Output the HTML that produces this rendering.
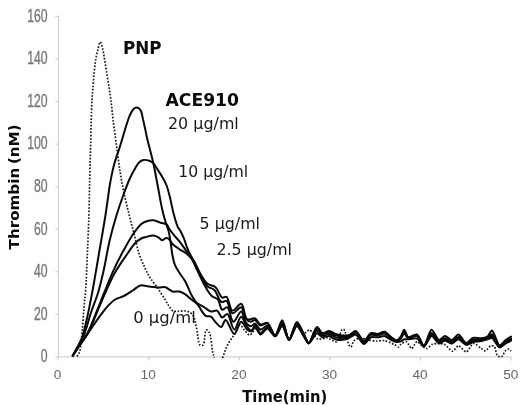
<!DOCTYPE html>
<html><head><meta charset="utf-8"><title>Thrombin generation</title>
<style>
html,body{margin:0;padding:0;background:#fff;}
svg{display:block;}
.ax{stroke:#d2d2d2;stroke-width:1.2;fill:none;}
.yl text{font-family:"Liberation Sans",sans-serif;font-size:17.5px;fill:#777;stroke:#777;stroke-width:0.35;}
.xl text{font-family:"Liberation Sans",sans-serif;font-size:13.7px;fill:#686868;}
.b{font-family:"DejaVu Sans","Liberation Sans",sans-serif;font-weight:bold;fill:#0a0a0a;}
.n{font-family:"DejaVu Sans","Liberation Sans",sans-serif;font-size:15.5px;fill:#1a1a1a;}
.s path{fill:none;stroke:#0a0a0a;stroke-width:2;stroke-linejoin:round;stroke-linecap:round;}
.d path{fill:none;stroke:#1c1c1c;stroke-width:1.7;stroke-dasharray:1.7 1.6;}
</style></head><body>
<svg width="520" height="405" viewBox="0 0 520 405">
<rect width="520" height="405" fill="#fff"/>
<g class="ax">
<line x1="58.5" x2="58.5" y1="15.8" y2="357.4"/>
<line x1="57.9" x2="511.6" y1="356.85" y2="356.85"/>
<line x1="55.3" x2="58.5" y1="356.9" y2="356.9"/><line x1="55.3" x2="58.5" y1="314.3" y2="314.3"/><line x1="55.3" x2="58.5" y1="271.7" y2="271.7"/><line x1="55.3" x2="58.5" y1="229.2" y2="229.2"/><line x1="55.3" x2="58.5" y1="186.6" y2="186.6"/><line x1="55.3" x2="58.5" y1="144.1" y2="144.1"/><line x1="55.3" x2="58.5" y1="101.5" y2="101.5"/><line x1="55.3" x2="58.5" y1="58.9" y2="58.9"/><line x1="55.3" x2="58.5" y1="16.4" y2="16.4"/>
<line x1="58.0" x2="58.0" y1="356.85" y2="360.6"/><line x1="148.6" x2="148.6" y1="356.85" y2="360.6"/><line x1="239.3" x2="239.3" y1="356.85" y2="360.6"/><line x1="329.9" x2="329.9" y1="356.85" y2="360.6"/><line x1="420.5" x2="420.5" y1="356.85" y2="360.6"/><line x1="511.2" x2="511.2" y1="356.85" y2="360.6"/>
</g>
<g class="yl"><text transform="translate(47.6,362.2) scale(0.70,1)" text-anchor="end">0</text><text transform="translate(47.6,319.6) scale(0.70,1)" text-anchor="end">20</text><text transform="translate(47.6,277.0) scale(0.70,1)" text-anchor="end">40</text><text transform="translate(47.6,234.5) scale(0.70,1)" text-anchor="end">60</text><text transform="translate(47.6,191.9) scale(0.70,1)" text-anchor="end">80</text><text transform="translate(47.6,149.4) scale(0.70,1)" text-anchor="end">100</text><text transform="translate(47.6,106.8) scale(0.70,1)" text-anchor="end">120</text><text transform="translate(47.6,64.2) scale(0.70,1)" text-anchor="end">140</text><text transform="translate(47.6,21.7) scale(0.70,1)" text-anchor="end">160</text></g>
<g class="xl"><text x="57.6" y="379.2" text-anchor="middle">0</text><text x="148.2" y="379.2" text-anchor="middle">10</text><text x="238.9" y="379.2" text-anchor="middle">20</text><text x="329.5" y="379.2" text-anchor="middle">30</text><text x="420.1" y="379.2" text-anchor="middle">40</text><text x="510.8" y="379.2" text-anchor="middle">50</text></g>
<g class="d">
<path d="M77.0 356.5C77.9 354.8 79.0 353.8 79.7 351.4C81.1 346.8 81.6 337.1 82.3 329.8C83.0 322.4 83.4 314.3 84.0 307.3C84.5 301.2 85.2 296.8 85.7 290.0C86.4 280.4 86.8 267.1 87.3 255.0C87.9 242.1 88.5 227.9 88.9 215.0C89.3 202.9 89.4 191.2 89.7 180.0C90.0 169.6 90.2 159.9 90.5 150.0C90.8 140.3 91.0 129.9 91.2 121.0C91.5 113.4 91.7 105.8 92.0 100.0C92.2 95.8 92.5 93.3 92.8 89.3C93.2 84.1 93.8 76.8 94.3 71.5C94.7 67.1 95.1 63.4 95.7 59.6C96.3 56.0 97.2 52.4 98.0 49.3C98.7 46.6 99.4 41.9 100.2 41.9C100.9 41.9 101.8 45.5 102.4 47.8C103.3 51.0 103.9 55.4 104.6 59.6C105.4 64.2 106.1 69.5 106.9 74.4C107.7 79.4 108.7 84.7 109.4 89.3C110.0 93.2 110.4 95.8 110.9 100.0C111.6 105.8 112.3 113.4 113.2 121.0C114.3 129.9 115.9 140.9 117.1 150.0C118.2 158.1 119.1 165.8 120.3 173.0C121.3 179.4 122.3 184.6 123.6 191.0C125.1 198.4 127.3 207.4 129.2 215.0C130.9 221.9 132.6 228.2 134.3 234.8C136.0 241.4 137.3 248.6 139.3 254.5C141.0 259.5 143.1 263.9 145.0 268.0C146.6 271.5 148.1 274.4 150.0 277.5C152.0 280.8 154.6 283.7 157.0 287.2C159.6 291.0 162.8 296.0 165.0 299.5C166.6 302.0 167.6 304.0 169.0 306.0C170.3 307.8 171.4 310.2 173.0 311.0C174.4 311.7 176.1 311.3 178.0 311.3C180.4 311.3 183.5 310.4 186.0 311.0C188.4 311.5 190.8 312.5 192.5 314.5C194.8 317.3 195.3 322.8 196.5 327.5C197.9 332.9 197.9 343.3 200.0 345.0C200.8 345.7 202.2 345.7 203.0 345.0C204.9 343.5 204.6 330.6 206.3 330.0C207.2 329.7 208.4 331.0 209.3 332.5C211.2 335.9 211.8 347.9 212.8 352.5C213.3 354.9 213.8 356.2 214.3 358.0"/>
<path d="M222.5 358.0C224.2 353.7 225.5 349.0 227.5 345.0C229.4 341.3 231.9 338.4 234.0 335.0C236.1 331.7 238.0 325.2 240.0 325.0C241.7 324.9 243.2 329.3 245.0 331.0C246.6 332.6 248.3 335.2 250.0 335.0C252.2 334.8 254.8 327.2 257.0 327.0C258.3 326.9 260.6 330.9 262.0 331.0C263.5 331.1 266.5 326.8 268.0 327.0C270.0 327.3 273.7 336.2 275.5 336.0C277.4 335.8 280.3 323.9 282.0 324.0C283.8 324.1 287.0 338.9 289.0 339.0C290.9 339.1 295.0 325.1 297.0 325.0C298.6 324.9 301.2 333.6 303.0 334.0C304.5 334.3 307.8 329.8 309.5 330.0C311.6 330.3 315.2 338.1 317.7 339.0C319.9 339.8 324.6 337.7 327.0 338.0C329.5 338.3 334.8 342.5 336.7 341.7C338.9 340.8 340.6 330.4 342.0 329.5C342.5 329.2 343.5 329.1 344.0 329.5C345.4 330.5 347.7 342.9 349.0 345.0C349.5 345.9 350.5 347.1 351.0 347.0C351.8 346.9 352.6 342.2 353.7 341.0C354.9 339.8 358.2 338.2 360.0 338.0C361.9 337.8 365.9 339.6 368.0 340.0C370.1 340.4 374.1 340.9 376.3 341.0C378.4 341.1 382.3 340.2 384.5 340.6C386.9 341.0 392.0 343.4 394.0 344.4C395.5 345.1 397.8 347.2 398.7 347.0C399.4 346.9 400.0 345.0 400.8 344.4C401.8 343.6 404.9 341.4 406.2 341.7C407.8 342.0 410.4 348.5 411.6 348.5C412.4 348.5 413.6 345.9 414.3 345.0C415.0 344.1 416.2 341.6 417.0 341.5C417.9 341.4 419.8 344.1 421.0 345.0C422.3 346.0 425.2 348.6 426.6 348.5C428.1 348.4 430.6 345.0 432.2 344.4C433.6 343.8 436.4 343.5 438.0 343.5C439.6 343.5 442.8 343.7 444.5 344.4C446.6 345.3 450.7 351.2 452.6 351.2C454.3 351.2 456.8 345.9 458.5 345.8C460.3 345.7 464.3 352.1 466.2 351.9C468.2 351.7 471.4 343.8 473.5 343.5C475.4 343.2 479.6 347.5 481.3 348.5C482.5 349.2 484.2 350.9 485.3 350.8C486.7 350.7 489.4 346.2 490.8 345.8C491.7 345.5 493.5 345.8 494.2 346.4C495.5 347.5 496.2 354.9 497.6 356.0C498.5 356.7 500.7 357.0 501.6 356.6C502.9 356.0 504.5 351.5 505.7 350.5C506.5 349.8 508.3 348.9 509.0 349.0C509.6 349.1 510.5 350.5 511.0 351.0"/>
</g>
<g class="s">
<path d="M72.8 355.7C74.5 352.5 76.4 349.2 78.0 346.0C79.6 342.9 81.0 340.5 82.3 336.7C84.2 331.2 85.9 323.2 87.5 316.0C89.2 308.3 90.6 300.9 92.3 292.0C94.4 280.9 96.6 267.2 98.8 254.5C101.0 241.5 103.6 227.3 105.5 215.0C107.2 204.3 108.7 191.9 109.8 185.0C110.4 181.3 110.8 179.4 111.4 176.5C112.1 173.3 112.7 169.9 113.6 166.5C114.5 163.1 115.6 159.4 116.7 156.1C117.7 153.0 118.8 150.1 119.8 147.0C120.8 143.8 121.8 140.3 122.8 137.0C123.8 133.7 124.8 130.2 125.8 127.0C126.7 124.0 127.6 121.1 128.6 118.5C129.4 116.3 130.3 114.2 131.2 112.5C132.0 111.1 132.7 109.9 133.6 109.0C134.4 108.3 135.3 107.5 136.2 107.4C137.1 107.3 138.4 107.9 139.2 108.5C140.1 109.2 140.6 110.2 141.2 111.5C142.0 113.4 142.4 116.4 143.0 119.2C143.8 122.5 144.6 126.5 145.4 130.0C146.1 133.3 146.5 135.8 147.4 139.5C148.7 144.9 151.0 153.3 152.4 159.3C153.6 164.3 154.4 168.4 155.3 173.0C156.2 177.7 157.0 182.0 158.0 187.3C159.3 193.9 160.7 202.9 162.3 209.7C163.6 215.4 165.4 221.4 166.6 225.3C167.3 227.7 168.0 228.7 168.6 231.0C169.4 234.1 170.0 238.4 170.6 242.3C171.3 246.4 171.6 251.1 172.4 255.0C173.1 258.4 173.6 261.6 174.8 264.6C176.0 267.6 177.8 270.3 179.5 273.0C181.2 275.7 183.2 277.8 185.0 281.0C187.4 285.1 189.5 291.5 192.0 296.0C194.1 299.8 196.5 303.0 198.8 306.3C201.1 309.6 203.2 314.3 205.7 315.8C207.4 316.8 209.5 315.8 211.0 316.7C212.7 317.7 213.6 320.2 215.2 321.8C217.0 323.6 219.6 327.3 221.3 327.0C223.0 326.7 223.9 320.0 225.6 320.0C228.0 320.0 231.6 334.1 234.3 334.0C236.8 333.9 238.9 322.0 241.2 321.8C243.2 321.7 245.2 328.0 247.2 329.6C248.6 330.7 250.2 331.7 251.5 331.4C252.9 331.0 253.7 327.0 255.0 327.0C256.3 327.0 258.9 334.4 260.5 334.6C262.1 334.8 265.7 328.5 267.5 328.6C269.5 328.7 273.3 336.5 275.2 336.3C277.2 336.1 280.5 325.9 282.2 326.0C284.1 326.1 287.1 339.9 289.0 340.0C290.9 340.1 294.8 326.1 296.8 326.0C298.6 325.9 302.1 333.9 303.8 336.3C305.2 338.3 307.3 343.3 308.8 343.3C310.6 343.4 315.0 333.4 317.0 333.2C318.5 333.0 320.8 336.9 322.4 337.3C324.0 337.7 327.5 335.7 329.2 336.0C330.9 336.3 333.7 338.8 335.3 339.3C336.7 339.8 339.2 340.1 340.8 340.0C342.7 339.9 347.0 338.7 349.0 338.0C350.9 337.3 354.0 334.3 355.7 334.6C357.9 335.0 361.8 343.9 363.9 344.0C365.7 344.1 368.9 338.1 370.9 337.3C372.6 336.6 375.9 337.5 377.7 337.3C379.5 337.1 382.8 335.7 384.5 336.0C386.3 336.3 389.6 339.2 391.3 340.0C392.8 340.7 395.4 341.9 396.7 342.0C397.8 342.1 399.8 341.8 400.8 341.4C401.8 341.0 403.2 339.6 404.2 339.3C405.2 339.0 407.0 339.3 408.2 339.3C410.0 339.2 415.0 337.8 417.0 338.6C419.2 339.5 422.1 346.6 423.9 346.5C425.9 346.4 429.4 336.2 431.5 336.0C433.4 335.8 437.0 343.0 439.0 343.4C440.6 343.7 443.4 340.7 445.0 340.7C446.7 340.7 450.3 343.6 452.0 343.4C453.8 343.2 456.8 339.2 458.5 339.3C460.4 339.4 464.2 344.6 466.2 344.8C468.0 345.0 471.1 342.5 473.0 342.0C475.0 341.5 479.3 341.4 481.3 341.0C483.0 340.7 485.9 339.7 487.4 339.3C488.7 338.9 490.8 337.6 492.0 338.0C493.9 338.6 497.6 347.2 499.6 347.5C501.2 347.7 504.1 344.3 505.7 343.4C507.1 342.6 509.6 341.4 511.0 340.7"/>
<path d="M72.8 355.7C74.5 352.6 76.2 349.8 78.0 346.5C80.0 342.9 82.1 339.6 84.0 335.0C86.5 328.8 88.6 319.8 91.0 312.5C93.3 305.5 96.2 299.0 98.3 292.0C100.4 284.9 101.9 278.1 103.7 270.3C105.7 261.2 107.4 250.2 109.6 240.7C111.7 231.8 114.2 222.9 116.6 215.0C118.7 208.2 120.8 202.1 123.0 196.0C125.1 190.2 127.4 183.8 129.6 179.0C131.3 175.2 132.8 172.2 134.6 169.2C136.2 166.6 137.7 163.5 139.5 162.0C140.8 160.9 142.1 160.3 143.5 160.0C145.0 159.7 146.8 160.0 148.4 160.5C150.1 161.0 152.0 161.9 153.4 163.2C155.0 164.7 155.9 167.1 157.3 169.2C158.9 171.6 160.8 174.3 162.3 177.0C163.9 179.7 165.4 182.4 166.6 185.5C168.0 189.1 168.9 193.3 170.0 197.6C171.2 202.5 172.2 208.2 173.5 213.2C174.8 218.0 176.3 223.8 177.8 227.0C178.7 228.8 179.5 229.5 180.4 231.0C181.4 232.9 182.5 235.1 183.5 237.4C184.6 240.0 185.5 243.2 186.5 246.0C187.5 248.6 188.3 251.0 189.6 253.5C191.0 256.3 193.0 259.0 194.6 262.0C196.4 265.3 197.7 269.0 199.7 272.5C201.9 276.3 204.6 281.5 207.5 283.8C209.6 285.5 212.7 285.3 214.4 286.4C215.6 287.2 216.1 287.8 217.0 289.0C218.5 291.0 220.2 296.7 222.2 297.6C223.5 298.2 225.2 296.1 226.5 296.8C228.9 298.1 229.8 309.9 232.5 310.6C234.9 311.2 238.9 303.1 241.2 303.7C244.1 304.5 244.1 317.4 247.2 319.3C249.3 320.6 252.8 317.6 255.0 318.4C256.8 319.1 258.8 324.0 260.5 324.5C262.1 325.0 265.9 322.1 267.5 322.8C269.9 323.8 273.3 335.8 275.2 335.7C277.2 335.6 280.5 320.1 282.2 320.2C284.1 320.3 287.1 339.9 289.0 340.0C290.9 340.1 294.7 322.1 296.8 322.0C298.6 321.9 302.2 331.1 303.8 334.0C305.2 336.6 307.4 343.3 308.8 343.3C310.7 343.3 314.9 327.3 317.0 327.0C318.4 326.8 320.7 332.7 322.4 333.2C323.9 333.6 327.5 331.0 329.2 331.1C330.9 331.2 333.7 333.4 335.3 333.9C336.7 334.4 339.2 335.0 340.8 335.2C342.7 335.4 347.0 335.8 349.0 335.2C350.9 334.7 354.0 330.8 355.7 331.1C357.9 331.5 361.8 341.0 363.9 341.0C365.8 341.0 368.9 334.0 370.9 333.2C372.5 332.6 375.9 334.1 377.7 333.9C379.5 333.7 382.8 331.5 384.5 331.8C386.4 332.2 389.6 336.1 391.3 337.3C392.7 338.3 395.4 340.7 396.7 340.6C397.9 340.5 399.9 337.9 400.8 336.6C401.9 335.1 403.3 329.8 404.2 329.8C405.2 329.8 406.6 336.6 408.2 337.3C409.9 338.0 415.1 333.8 417.0 334.5C419.3 335.4 422.1 346.1 423.9 346.0C425.9 345.9 429.3 330.0 431.5 329.8C433.3 329.6 437.0 339.7 439.0 340.0C440.5 340.3 443.4 336.0 445.0 335.9C446.7 335.8 450.3 340.2 452.0 340.0C453.8 339.8 456.8 334.4 458.5 334.5C460.5 334.6 464.2 342.8 466.2 343.0C467.9 343.2 471.0 338.6 473.0 338.0C475.0 337.4 479.3 338.5 481.3 338.3C483.0 338.1 486.1 337.5 487.4 336.6C488.9 335.6 490.7 330.4 492.0 330.5C493.9 330.7 497.4 345.0 499.6 345.4C501.1 345.7 504.1 341.2 505.7 340.0C507.1 339.0 509.6 337.5 511.0 336.6"/>
<path d="M72.8 355.7C74.9 352.5 76.8 349.4 79.0 346.0C81.6 342.0 84.8 338.2 87.5 333.2C90.9 326.9 94.1 317.9 97.0 310.7C99.7 304.2 101.9 298.3 104.5 292.0C107.1 285.5 109.6 279.0 112.6 272.3C115.8 265.2 119.8 257.3 123.5 250.6C126.8 244.6 130.1 238.5 133.4 233.8C136.0 230.0 138.8 226.1 141.3 224.0C142.9 222.7 144.2 222.1 146.0 221.5C148.2 220.8 151.2 220.1 153.6 220.3C156.0 220.5 158.3 222.0 160.5 222.7C162.6 223.4 165.1 223.3 166.6 224.4C167.9 225.4 168.1 227.2 169.2 228.8C170.6 230.8 172.4 233.2 174.2 235.4C176.1 237.7 178.3 239.8 180.2 242.3C182.3 245.0 184.3 248.3 186.3 251.0C188.1 253.4 189.8 255.1 191.5 257.8C193.7 261.4 195.5 266.5 198.0 271.0C200.8 276.0 204.1 283.3 207.5 286.4C209.7 288.4 212.4 287.9 214.4 289.9C217.2 292.5 218.7 300.8 221.3 302.0C222.9 302.7 225.0 300.2 226.5 301.0C229.0 302.2 229.8 312.5 232.5 313.2C234.9 313.8 239.1 306.5 241.2 307.2C243.5 307.9 243.5 315.9 245.5 318.4C246.9 320.2 249.0 321.6 250.7 321.8C252.2 321.9 253.6 319.7 255.0 320.0C256.4 320.3 258.8 325.1 260.5 325.5C262.1 325.9 265.8 322.8 267.5 323.4C269.8 324.3 273.3 335.9 275.2 335.8C277.2 335.6 280.5 320.7 282.2 320.8C284.1 320.9 287.1 339.9 289.0 340.0C290.9 340.1 294.7 322.5 296.8 322.4C298.6 322.3 302.2 331.3 303.8 334.2C305.2 336.7 307.4 343.3 308.8 343.3C310.7 343.3 314.9 327.9 317.0 327.6C318.4 327.4 320.7 333.1 322.4 333.6C323.9 334.0 327.5 331.5 329.2 331.6C330.9 331.7 333.7 333.9 335.3 334.4C336.7 334.9 339.2 335.5 340.8 335.7C342.7 335.9 347.0 336.0 349.0 335.5C350.9 334.9 354.0 331.2 355.7 331.5C357.9 331.8 361.8 341.3 363.9 341.3C365.8 341.3 368.9 334.4 370.9 333.6C372.5 333.0 375.9 334.4 377.7 334.2C379.5 334.1 382.8 331.9 384.5 332.2C386.4 332.6 389.6 336.4 391.3 337.6C392.7 338.6 395.4 340.9 396.7 340.7C397.9 340.6 399.9 338.3 400.8 337.1C401.9 335.7 403.3 330.8 404.2 330.8C405.2 330.7 406.6 336.9 408.2 337.5C409.9 338.2 415.1 334.2 417.0 334.9C419.3 335.8 422.1 346.1 423.9 346.1C425.9 346.0 429.4 333.1 431.5 332.9C433.3 332.7 437.0 341.3 439.0 341.7C440.5 342.0 443.4 338.4 445.0 338.3C446.7 338.2 450.3 341.9 452.0 341.7C453.8 341.5 456.8 336.8 458.5 336.9C460.5 337.0 464.2 343.7 466.2 343.9C468.0 344.1 471.1 340.6 473.0 340.0C475.0 339.4 479.3 340.0 481.3 339.6C483.0 339.4 486.0 338.7 487.4 338.0C488.8 337.3 490.8 334.0 492.0 334.2C493.9 334.6 497.5 346.1 499.6 346.4C501.1 346.7 504.1 342.8 505.7 341.7C507.1 340.8 509.6 339.4 511.0 338.6"/>
<path d="M72.8 355.7C74.9 352.6 76.7 349.7 79.0 346.3C81.7 342.4 85.0 338.6 87.8 333.6C91.3 327.3 94.5 318.1 97.5 311.0C100.2 304.7 102.4 299.1 105.2 293.0C108.1 286.6 111.1 279.5 114.6 273.3C117.9 267.4 121.9 261.7 125.5 256.5C128.8 251.7 132.2 246.1 135.3 243.0C137.4 240.9 139.3 239.5 141.3 238.5C142.9 237.7 144.2 237.5 146.0 237.0C148.2 236.4 151.3 235.3 153.6 235.5C155.5 235.7 157.3 236.7 158.8 237.6C160.1 238.4 160.8 240.2 162.0 240.3C163.2 240.4 164.8 238.2 166.0 238.0C166.9 237.9 167.7 238.1 168.5 238.6C169.8 239.5 170.8 242.3 172.5 244.0C174.4 245.9 177.1 247.6 179.4 249.2C181.7 250.8 184.2 251.9 186.3 253.5C188.3 255.1 189.8 256.3 191.5 258.7C194.0 262.2 196.4 268.7 198.8 273.5C201.1 278.2 203.3 283.3 205.7 287.3C207.7 290.6 209.5 293.9 211.8 296.0C213.6 297.7 216.2 297.6 217.8 299.4C219.9 301.7 220.2 309.1 222.2 309.8C223.6 310.3 225.8 306.6 227.3 307.2C229.8 308.1 230.9 321.5 233.4 321.8C235.6 322.1 239.1 311.2 241.2 311.5C243.1 311.7 243.6 319.2 245.5 321.8C247.0 323.8 249.0 326.1 250.7 326.2C252.2 326.3 253.6 323.4 255.0 323.6C256.4 323.8 258.9 329.3 260.5 329.6C262.1 329.8 265.8 325.3 267.5 325.7C269.7 326.2 273.3 336.1 275.2 336.0C277.2 335.9 280.5 323.0 282.2 323.1C284.1 323.2 287.1 339.9 289.0 340.0C290.9 340.1 294.7 324.1 296.8 324.0C298.6 323.9 302.1 332.5 303.8 335.1C305.2 337.4 307.4 343.3 308.8 343.3C310.7 343.3 314.9 328.6 317.0 328.4C318.4 328.2 320.8 333.6 322.4 334.1C324.0 334.5 327.5 332.0 329.2 332.2C330.9 332.3 333.7 334.6 335.3 335.1C336.7 335.6 339.2 336.1 340.8 336.3C342.7 336.4 347.0 336.4 349.0 335.8C350.9 335.3 354.0 331.7 355.7 332.0C357.9 332.4 361.8 341.7 363.9 341.8C365.8 341.8 368.9 335.0 370.9 334.2C372.5 333.6 375.9 334.9 377.7 334.8C379.5 334.6 382.8 332.5 384.5 332.9C386.4 333.2 389.6 336.9 391.3 338.0C392.8 338.9 395.4 341.0 396.7 341.0C397.9 340.9 399.9 338.8 400.8 337.8C401.9 336.6 403.3 332.2 404.2 332.2C405.2 332.1 406.7 337.3 408.2 337.8C409.9 338.4 415.1 334.8 417.0 335.5C419.3 336.4 422.1 346.1 423.9 346.1C425.8 346.1 429.4 334.0 431.5 333.8C433.4 333.7 437.0 341.9 439.0 342.2C440.5 342.5 443.4 339.1 445.0 339.0C446.7 339.0 450.3 342.4 452.0 342.2C453.8 342.0 456.8 337.5 458.5 337.6C460.5 337.7 464.2 343.9 466.2 344.2C468.0 344.4 471.1 341.1 473.0 340.6C475.0 340.0 479.3 340.4 481.3 340.1C483.0 339.8 486.0 339.0 487.4 338.4C488.7 337.8 490.8 335.1 492.0 335.4C493.9 335.8 497.5 346.4 499.6 346.8C501.1 347.0 504.1 343.2 505.7 342.2C507.1 341.3 509.6 340.0 511.0 339.3"/>
<path d="M72.8 355.7C75.2 352.1 77.4 348.8 80.0 345.0C82.9 340.8 85.9 336.3 89.2 331.5C92.9 326.1 97.8 318.9 101.3 314.2C103.9 310.8 105.8 308.1 108.2 305.6C110.4 303.3 112.5 301.1 115.1 299.5C117.7 297.9 120.9 297.5 123.8 296.0C127.0 294.4 130.5 291.9 133.4 290.0C135.9 288.4 137.9 286.1 140.3 285.5C142.6 284.9 144.8 285.9 147.5 286.2C150.8 286.6 155.3 287.4 158.6 287.5C161.2 287.6 163.3 286.6 165.5 287.2C167.9 287.8 170.1 290.8 172.5 291.5C174.7 292.1 177.3 291.0 179.4 291.5C181.4 292.0 183.0 292.9 185.0 294.2C187.6 295.9 190.5 299.0 193.6 301.1C196.8 303.3 200.9 305.3 204.0 307.2C206.6 308.7 208.7 311.0 211.0 311.5C213.0 311.9 215.2 309.9 217.0 310.6C219.1 311.5 220.3 317.2 222.2 317.5C223.8 317.8 225.7 313.6 227.3 314.0C229.9 314.7 231.9 329.5 234.3 329.6C236.5 329.7 238.9 316.7 241.2 316.7C243.2 316.7 245.1 324.6 247.2 327.0C248.6 328.6 250.2 330.7 251.5 330.5C252.9 330.3 253.7 325.3 255.0 325.3C256.3 325.3 258.8 332.8 260.5 333.1C262.1 333.3 265.7 327.6 267.5 327.7C269.5 327.9 273.3 336.4 275.2 336.2C277.2 336.0 280.5 325.0 282.2 325.1C284.1 325.3 287.1 339.9 289.0 340.0C290.9 340.1 294.7 325.5 296.8 325.4C298.6 325.3 302.1 333.5 303.8 336.0C305.2 338.0 307.4 343.3 308.8 343.3C310.7 343.3 314.9 331.0 317.0 330.7C318.4 330.5 320.8 335.2 322.4 335.7C324.0 336.1 327.5 333.8 329.2 334.0C330.9 334.2 333.7 336.6 335.3 337.1C336.7 337.6 339.2 338.1 340.8 338.1C342.7 338.1 347.0 337.6 349.0 336.9C350.9 336.2 354.0 332.2 355.7 332.5C357.9 332.8 361.8 342.1 363.9 342.2C365.8 342.3 368.9 335.6 370.9 334.8C372.5 334.2 375.9 335.4 377.7 335.3C379.5 335.1 382.8 333.2 384.5 333.5C386.4 333.8 389.6 337.3 391.3 338.4C392.8 339.3 395.4 341.2 396.7 341.2C397.9 341.1 399.9 339.4 400.8 338.5C401.8 337.5 403.2 333.7 404.2 333.6C405.2 333.5 406.8 337.6 408.2 338.1C409.9 338.7 415.1 335.4 417.0 336.1C419.3 337.0 422.1 346.2 423.9 346.2C425.8 346.2 429.4 334.9 431.5 334.8C433.4 334.6 437.0 342.4 439.0 342.7C440.5 343.0 443.4 339.8 445.0 339.7C446.7 339.7 450.3 342.9 452.0 342.7C453.8 342.6 456.8 338.3 458.5 338.3C460.4 338.4 464.2 344.2 466.2 344.4C468.0 344.6 471.1 341.7 473.0 341.2C475.0 340.7 479.3 340.8 481.3 340.5C483.0 340.1 485.9 339.3 487.4 338.8C488.7 338.3 490.8 336.2 492.0 336.5C493.9 337.0 497.6 346.7 499.6 347.1C501.1 347.3 504.1 343.7 505.7 342.7C507.1 341.9 509.6 340.6 511.0 339.9"/>
</g>
<text class="b" x="123" y="54.4" font-size="17.2px" textLength="38.5" lengthAdjust="spacingAndGlyphs">PNP</text>
<text class="b" x="165.5" y="105.7" font-size="17.2px" textLength="73.5" lengthAdjust="spacingAndGlyphs">ACE910</text>
<text class="n" x="168" y="128.8" textLength="70.8" lengthAdjust="spacingAndGlyphs">20 µg/ml</text>
<text class="n" x="178.2" y="177.2" textLength="70" lengthAdjust="spacingAndGlyphs">10 µg/ml</text>
<text class="n" x="199.5" y="228.8" textLength="60.5" lengthAdjust="spacingAndGlyphs">5 µg/ml</text>
<text class="n" x="216.5" y="255.4" textLength="75.5" lengthAdjust="spacingAndGlyphs">2.5 µg/ml</text>
<text class="n" x="133.2" y="323.2" textLength="62.5" lengthAdjust="spacingAndGlyphs">0 µg/ml</text>
<text class="b" font-size="14.8px" word-spacing="-1.5" transform="translate(18.7,249.4) rotate(-90)" textLength="125" lengthAdjust="spacingAndGlyphs">Thrombin (nM)</text>
<text class="b" font-size="15.2px" x="242.3" y="401.8" textLength="85" lengthAdjust="spacingAndGlyphs">Time(min)</text>
</svg>
</body></html>
